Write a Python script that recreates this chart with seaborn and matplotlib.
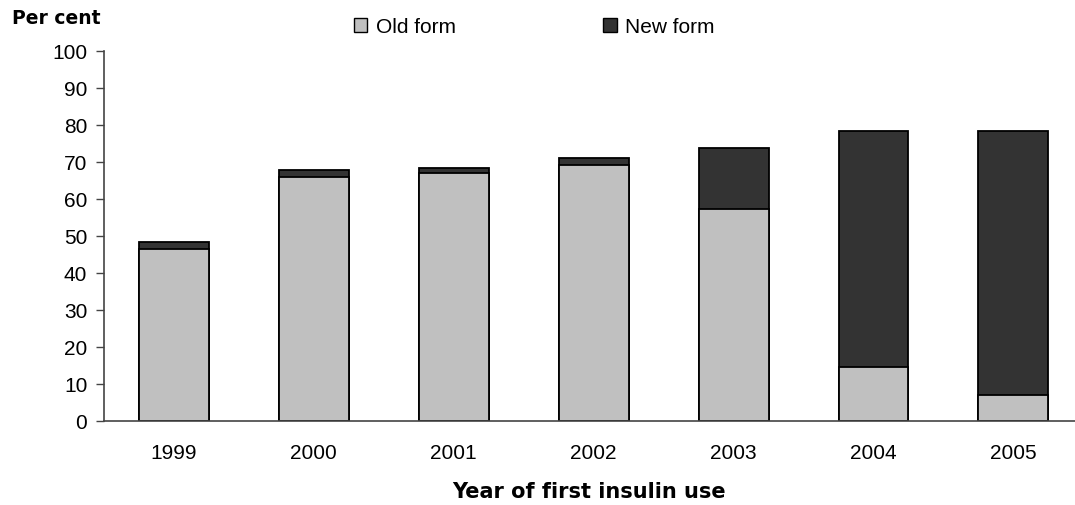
import matplotlib
matplotlib.use("Agg")
import matplotlib.pyplot as plt
from matplotlib.patches import Patch
import numpy as np
import pandas as pd
import seaborn as sns

years = ["1999", "2000", "2001", "2002", "2003", "2004", "2005"]
old_form = [46.5, 66.0, 67.0, 69.2, 57.3, 14.7, 7.1]
new_form = [2.0, 1.8, 1.3, 1.8, 16.4, 63.7, 71.3]
y_ticks = [0, 10, 20, 30, 40, 50, 60, 70, 80, 90, 100]

OLD_COLOR = "#C0C0C0"
NEW_COLOR = "#333333"

sns.set_style("white")
plt.rcParams["font.family"] = ["Liberation Sans", "DejaVu Sans"]
plt.rcParams["text.color"] = "black"
plt.rcParams["xtick.color"] = "black"
plt.rcParams["ytick.color"] = "black"
plt.rcParams["axes.labelcolor"] = "black"

df = pd.DataFrame({
    "year": years,
    "old": old_form,
    "new": new_form,
})
df["total"] = df["old"] + df["new"]

fig = plt.figure(figsize=(10.75, 5.05), dpi=100)
ax = fig.add_axes([0.0967, 0.1663, 0.9033, 0.7327])

# stacked bars: full height in the dark colour, the old-form share drawn over it
sns.barplot(data=df, x="year", y="total", color=NEW_COLOR, saturation=1,
            width=0.5, edgecolor="black", linewidth=1.3, ax=ax)
sns.barplot(data=df, x="year", y="old", color=OLD_COLOR, saturation=1,
            width=0.5, edgecolor="black", linewidth=1.3, ax=ax)

ax.set_ylim(0, 100)
ax.set_xlim(-0.5, 6.44)
ax.set_yticks(y_ticks)
ax.tick_params(axis="y", which="both", left=True, length=6, width=1,
               color="#444444", labelcolor="black", labelsize=15, pad=6)
ax.tick_params(axis="x", bottom=False, labelcolor="black", labelsize=15,
               pad=13)

for side in ["top", "right"]:
    ax.spines[side].set_visible(False)
for side in ["left", "bottom"]:
    ax.spines[side].set_color("#444444")
    ax.spines[side].set_linewidth(1.2)

ax.set_xlabel("Year of first insulin use", fontsize=15, fontweight="bold",
              family="DejaVu Sans", color="black", labelpad=14)
ax.set_ylabel("")
fig.text(0.011, 0.952, "Per cent", fontsize=13.5, fontweight="bold",
         family="DejaVu Sans", color="black", ha="left", va="baseline")

handles = [
    Patch(facecolor=OLD_COLOR, edgecolor="black", linewidth=1),
    Patch(facecolor=NEW_COLOR, edgecolor="black", linewidth=1),
]
fig.legend(handles, ["Old form", "New form"], loc="center",
           bbox_to_anchor=(0.497, 0.946), ncol=2, frameon=False,
           fontsize=15, labelcolor="black", handlelength=0.65,
           handleheight=0.65, handletextpad=0.4, columnspacing=7.1)

fig.savefig("out.png", dpi=100)
